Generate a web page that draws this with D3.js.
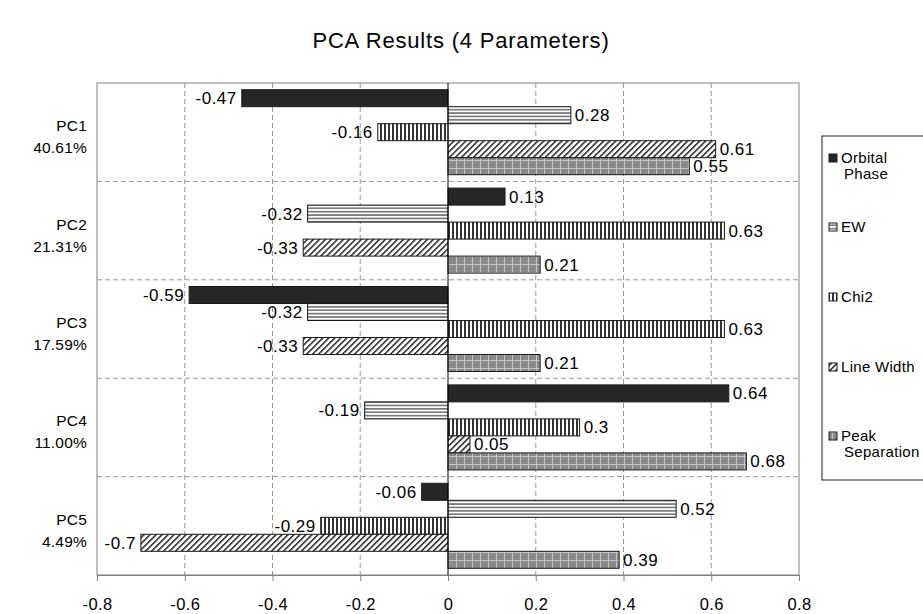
<!DOCTYPE html>
<html>
<head>
<meta charset="utf-8">
<script src="https://cdn.jsdelivr.net/npm/d3@7"></script>
<style>
body{margin:0;background:#fff;}
text{font-family:"Liberation Sans",Arial,Helvetica,sans-serif;}
</style>
</head>
<body>
<svg id="chart" width="923" height="614"></svg>
<script>
const categories = ["PC1","PC2","PC3","PC4","PC5"];
const categoryPercents = ["40.61%","21.31%","17.59%","11.00%","4.49%"];
const seriesNames = ["Orbital Phase","EW","Chi2","Line Width","Peak Separation"];
const orbitalPhase = [-0.47, 0.13, -0.59, 0.64, -0.06];
const ew = [0.28, -0.32, -0.32, -0.19, 0.52];
const chi2 = [-0.16, 0.63, 0.63, 0.3, -0.29];
const lineWidth = [0.61, -0.33, -0.33, 0.05, -0.7];
const peakSeparation = [0.55, 0.21, 0.21, 0.68, 0.39];
const xTicks = [-0.8,-0.6,-0.4,-0.2,0,0.2,0.4,0.6,0.8];
const title = "PCA Results (4 Parameters)";

const seriesValues = [orbitalPhase, ew, chi2, lineWidth, peakSeparation];

const svg = d3.select("#chart");
const L = 97, R = 799, T = 83, B = 575;

const defs = svg.append("defs");
// EW horizontal stripes
const pew = defs.append("pattern").attr("id","p-ew").attr("patternUnits","userSpaceOnUse").attr("width",8).attr("height",3.4);
pew.append("rect").attr("width",8).attr("height",3.4).attr("fill","#fff");
pew.append("rect").attr("width",8).attr("height",1.7).attr("fill","#7a7a7a");
// Chi2 vertical stripes
const pchi = defs.append("pattern").attr("id","p-chi").attr("patternUnits","userSpaceOnUse").attr("width",4).attr("height",8);
pchi.append("rect").attr("width",4).attr("height",8).attr("fill","#fff");
pchi.append("rect").attr("width",2).attr("height",8).attr("fill","#333");
// Line width diagonal
const plw = defs.append("pattern").attr("id","p-lw").attr("patternUnits","userSpaceOnUse").attr("width",4.24).attr("height",8).attr("patternTransform","rotate(45)");
plw.append("rect").attr("width",4.24).attr("height",8).attr("fill","#fff");
plw.append("rect").attr("width",1.6).attr("height",8).attr("fill","#333");
// Peak grid
const ppk = defs.append("pattern").attr("id","p-peak").attr("patternUnits","userSpaceOnUse").attr("width",8).attr("height",8);
ppk.append("rect").attr("width",8).attr("height",8).attr("fill","#8a8a8a");
ppk.append("rect").attr("width",1).attr("height",8).attr("fill","#c4c4c4");
ppk.append("rect").attr("width",8).attr("height",1).attr("fill","#c4c4c4");

const fills = ["#262626","url(#p-ew)","url(#p-chi)","url(#p-lw)","url(#p-peak)"];

const x = d3.scaleLinear().domain([-0.8,0.8]).range([L,R]);
const y = d3.scaleBand().domain(categories).range([T,B]).paddingInner(0).paddingOuter(0);
const ySub = d3.scaleBand().domain(seriesNames).range([0,y.bandwidth()]).paddingInner(0).paddingOuter(0.394);

// title
svg.append("text").attr("x",461).attr("y",48).attr("text-anchor","middle")
  .attr("font-size",22).attr("letter-spacing",0.8).attr("fill","#000").text(title);

// vertical gridlines
svg.append("g").selectAll("line").data(xTicks.filter(d=>d!==0 && Math.abs(d)<0.8)).join("line")
  .attr("x1",d=>x(d)).attr("x2",d=>x(d)).attr("y1",T).attr("y2",B)
  .attr("stroke","#999").attr("stroke-dasharray","5,3");
// horizontal separators
svg.append("g").selectAll("line").data(categories.slice(1)).join("line")
  .attr("x1",L).attr("x2",R).attr("y1",d=>y(d)).attr("y2",d=>y(d))
  .attr("stroke","#999").attr("stroke-dasharray","5,3");

// plot border
svg.append("rect").attr("x",L).attr("y",T).attr("width",R-L).attr("height",B-T)
  .attr("fill","none").attr("stroke","#808080");

// bars
const barData = [];
categories.forEach((c,ci)=>{
  seriesNames.forEach((s,si)=>{
    barData.push({c, s, si, v: seriesValues[si][ci]});
  });
});
const gb = svg.append("g");
gb.selectAll("rect").data(barData).join("rect")
  .attr("x",d=>x(Math.min(0,d.v)))
  .attr("width",d=>Math.abs(x(d.v)-x(0)))
  .attr("y",d=>y(d.c)+ySub(d.s))
  .attr("height",ySub.bandwidth())
  .attr("fill",d=>fills[d.si])
  .attr("stroke","#1a1a1a").attr("stroke-width",1);

// value labels
svg.append("g").selectAll("text").data(barData).join("text")
  .attr("x",d=>d.v<0 ? x(d.v)-5 : x(d.v)+4)
  .attr("y",d=>y(d.c)+ySub(d.s)+ySub.bandwidth()/2+6)
  .attr("text-anchor",d=>d.v<0?"end":"start")
  .attr("font-size",17).attr("letter-spacing",0.5).attr("fill","#000")
  .text(d=>String(d.v));

// zero line
svg.append("line").attr("x1",x(0)).attr("x2",x(0)).attr("y1",T).attr("y2",B)
  .attr("stroke","#000");

// x axis
const xAxis = d3.axisBottom(x).tickValues(xTicks).tickSize(6).tickFormat(d=>d===0?"0":String(d));
const ga = svg.append("g").attr("transform",`translate(0,${B})`).call(xAxis);
ga.select(".domain").attr("stroke","#808080");
ga.selectAll(".tick line").attr("stroke","#808080");
ga.selectAll(".tick text").attr("font-size",16.5).attr("letter-spacing",0.4).attr("fill","#000").attr("dy",0).attr("y",35)
  .style("font-family",'"Liberation Sans",Arial,sans-serif');

// category labels
const gc = svg.append("g");
categories.forEach((c,i)=>{
  const cy = y(c)+y.bandwidth()/2;
  gc.append("text").attr("x",87).attr("y",cy-1).attr("text-anchor","end")
    .attr("font-size",15.5).attr("letter-spacing",0.2).text(c);
  gc.append("text").attr("x",87).attr("y",cy+21).attr("text-anchor","end")
    .attr("font-size",15.5).attr("letter-spacing",0.2).text(categoryPercents[i]);
});

// legend
const lg = svg.append("g");
lg.append("rect").attr("x",822).attr("y",136).attr("width",120).attr("height",344)
  .attr("fill","#fff").attr("stroke","#222");
const legendY = [158,227,297,367,436];
const legendLines = [["Orbital","Phase"],["EW"],["Chi2"],["Line Width"],["Peak","Separation"]];
seriesNames.forEach((s,i)=>{
  lg.append("rect").attr("x",829).attr("y",legendY[i]-4).attr("width",8).attr("height",8)
    .attr("fill",fills[i]).attr("stroke","#1a1a1a");
  legendLines[i].forEach((t,j)=>{
    lg.append("text").attr("x",j===0?841:844).attr("y",legendY[i]+5+j*16)
      .attr("font-size",15).attr("letter-spacing",0.3).text(t);
  });
});
</script>
</body>
</html>
